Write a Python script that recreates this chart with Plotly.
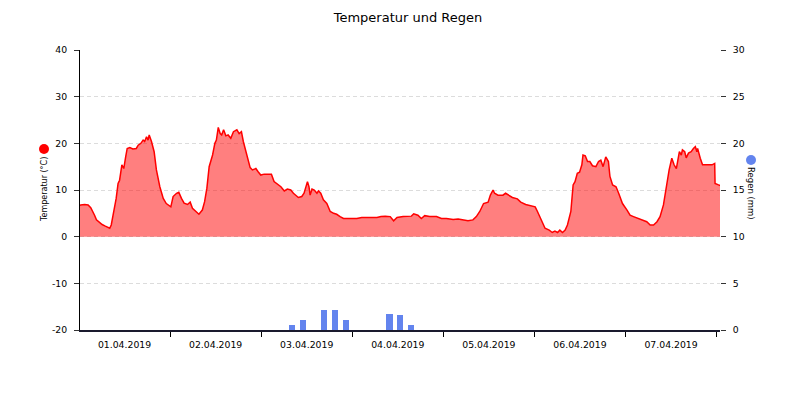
import pandas as pd
import plotly.graph_objects as go

# Temperature readings: hours after 01.04.2019 00:00 and values in °C
temp_hours = [
    0.0, 0.44, 1.5, 2.4, 3.1, 3.7, 4.1, 4.6, 5.5, 6.1, 6.8, 7.6, 8.1, 8.5, 9.2, 9.8,
    10.3, 10.7, 11.3, 11.8, 12.3, 12.7, 13.4, 14.2, 15.1, 15.6, 16.3, 16.9, 17.3,
    17.8, 18.2, 18.5, 19.1, 19.8, 20.4, 21.3, 22.2, 23.0, 24.2, 24.8, 25.7, 26.3,
    27.0, 27.7, 28.6, 29.3, 29.9, 30.8, 31.6, 32.5, 33.1, 33.7, 34.3, 35.2, 35.8,
    36.2, 36.7, 37.2, 37.6, 38.1, 38.7, 39.3, 40.0, 40.7, 41.6, 42.2, 42.8, 43.3,
    43.9, 44.6, 45.1, 45.7, 46.6, 47.2, 47.9, 48.8, 49.7, 50.7, 51.4, 52.3, 53.2,
    54.1, 54.9, 55.8, 56.5, 57.8, 58.7, 59.3, 59.9, 60.2, 60.6, 60.9, 61.4, 62.0,
    62.7, 63.1, 63.7, 64.4, 65.3, 66.2, 67.1, 67.9, 68.8, 69.7, 71.0, 72.4, 73.2,
    74.5, 75.8, 77.2, 78.5, 79.6, 80.7, 82.0, 82.9, 83.8, 85.4, 87.6, 88.2, 89.3,
    90.2, 91.1, 92.4, 94.2, 95.5, 96.8, 98.6, 99.9, 101.2, 102.5, 103.8, 104.7,
    105.6, 106.6, 107.8, 108.4, 109.1, 109.5, 110.4, 111.7, 112.4, 113.3, 114.2,
    115.5, 116.4, 117.7, 119.0, 120.2, 120.8, 121.4, 122.1, 122.8, 123.9, 124.7,
    125.4, 126.1, 126.7, 127.4, 128.1, 128.7, 129.6, 130.2, 130.7, 131.3, 131.9,
    132.5, 132.8, 133.4, 134.0, 134.6, 135.3, 136.2, 136.9, 137.5, 138.1, 138.8,
    139.5, 139.9, 140.6, 141.5, 142.2, 143.2, 144.4, 145.2, 146.1, 147.4, 148.7,
    149.6, 150.5, 151.4, 152.3, 153.1, 154.0, 154.9, 155.5, 156.2, 156.8, 157.4,
    157.8, 158.2, 158.7, 159.0, 159.6, 160.0, 160.6, 161.3, 161.9, 162.4, 162.8,
    163.0, 163.7, 164.3, 165.4, 166.8, 167.5, 167.6, 168.5, 169.2,
]
temp_values = [
    6.6, 6.8, 6.9, 6.8, 6.2, 5.4, 4.6, 3.6, 2.9, 2.6, 2.3, 2.0, 1.8, 2.5, 5.4, 8.2,
    11.4, 12.1, 15.4, 14.6, 17.1, 18.9, 19.1, 18.8, 18.9, 19.6, 20.0, 20.7, 20.4,
    21.4, 20.7, 21.8, 20.4, 18.2, 14.3, 10.7, 8.2, 7.1, 6.4, 8.6, 9.3, 9.5,
    8.2, 7.2, 6.9, 7.4, 6.1, 5.4, 4.8, 5.7, 7.5, 10.4, 15.0, 17.5, 20.0,
    20.7, 23.4, 22.1, 21.8, 22.9, 21.6, 21.8, 21.1, 22.5, 22.9, 22.1, 22.5, 20.4,
    18.6, 16.8, 14.8, 14.3, 14.6, 13.9, 13.2, 13.4, 13.4, 13.4, 11.8, 11.2, 10.7,
    9.8, 10.2, 10.0, 9.3, 8.4, 8.6, 9.3, 11.1, 11.8, 10.7, 8.9, 10.2, 10.0,
    9.3, 9.8, 9.3, 7.9, 7.1, 5.4, 5.0, 4.8, 4.3, 3.9, 3.9, 3.8, 3.9,
    4.1, 4.1, 4.1, 4.1, 4.3, 4.4, 4.3, 3.4, 4.1, 4.3, 4.4, 4.9, 4.6,
    3.9, 4.5, 4.3, 4.3, 3.9, 3.9, 3.7, 3.8, 3.6, 3.4, 3.6, 4.3,
    5.4, 7.1, 7.4, 8.9, 10.0, 9.3, 8.9, 8.9, 9.3, 8.8, 8.4,
    8.1, 7.4, 6.9, 6.6, 6.4, 5.4, 4.3, 3.1, 1.8, 1.4, 0.9,
    1.2, 0.9, 1.4, 0.9, 1.4, 2.5, 5.4, 11.1, 11.8, 13.6, 13.8,
    15.4, 17.5, 17.3, 16.1, 16.1, 15.2, 15.0, 16.1, 16.4, 15.0, 17.1,
    16.1, 12.9, 11.1, 10.7, 9.3, 7.1, 5.7, 4.6, 4.3, 3.9, 3.6,
    3.2, 2.5, 2.5, 3.2, 4.3, 6.8, 11.8, 14.3, 16.8, 15.4, 14.6,
    16.1, 18.2, 17.5, 18.6, 18.2, 16.9, 17.9, 18.2, 18.9, 19.3, 18.2,
    18.9, 16.8, 15.4, 15.4, 15.4, 15.7, 11.4, 11.1, 10.9,
]

# Rain (mm): hours after 01.04.2019 00:00
rain_hours = [56.1, 59.0, 64.6, 67.5, 70.4, 81.8, 84.6, 87.5]
rain_values = [0.5, 1.1, 2.15, 2.15, 1.1, 1.7, 1.6, 0.55]

# Axis ticks
temp_ticks = [-20, -10, 0, 10, 20, 30, 40]
temp_tick_labels = ["-20", "-10", "0", "10", "20", "30", "40"]
rain_ticks = [0, 5, 10, 15, 20, 25, 30]

title_text = "Temperatur und Regen"
left_title = "Temperatur (°C)"
right_title = "Regen (mm)"

start = pd.Timestamp("2019-04-01 00:00")
temp_x = [start + pd.Timedelta(hours=h) for h in temp_hours]
rain_x = [start + pd.Timedelta(hours=h) for h in rain_hours]

RED = "#ff0000"
BLUE = "rgb(99,132,238)"
FONT = "DejaVu Sans"

fig = go.Figure()
fig.add_trace(go.Bar(
    x=rain_x, y=rain_values, yaxis="y2",
    width=1.66 * 3600 * 1000,
    marker=dict(color=BLUE, line=dict(width=0)),
    hoverinfo="x+y",
))
fig.add_trace(go.Scatter(
    x=temp_x, y=temp_values, mode="lines",
    line=dict(color=RED, width=1.5),
    fill="tozeroy", fillcolor="rgba(255,0,0,0.5)",
))

fig.update_layout(
    width=800, height=400,
    margin=dict(l=72, r=88, t=42, b=78),
    paper_bgcolor="white", plot_bgcolor="white",
    showlegend=False,
    font=dict(family=FONT, size=9.3, color="#000"),
    title=dict(text=title_text, x=0.5, xanchor="center", y=1 - 9 / 400, yanchor="middle",
               font=dict(family=FONT, size=13, color="#000")),
    xaxis=dict(
        type="date",
        range=["2019-04-01 00:16", "2019-04-08 00:54"],
        tick0="2019-04-01", dtick=86400000,
        ticklabelmode="period", tickformat="%d.%m.%Y",
        ticks="outside", ticklen=5, tickcolor="#000",
        showline=True, linecolor="#1a1a2e", linewidth=1.5,
        showgrid=False, zeroline=False,
    ),
    yaxis=dict(
        range=[-20, 40], tickmode="array",
        tickvals=temp_ticks, ticktext=temp_tick_labels,
        ticks="outside", ticklen=5, tickcolor="#333",
        ticklabelstandoff=5,
        showline=True, linecolor="#000", linewidth=1,
        showgrid=True, gridcolor="#dcdcdc", griddash="4px,3px", gridwidth=1,
        zeroline=False,
    ),
    yaxis2=dict(
        range=[0, 30], tickmode="array", tickvals=rain_ticks,
        overlaying="y", side="right",
        ticks="outside", ticklen=5, tickcolor="#333",
        ticklabelstandoff=5,
        showline=False, showgrid=False, zeroline=False,
    ),
    bargap=0,
)

fig.add_annotation(text=left_title, xref="paper", yref="paper",
                   x=-36 / 640, y=0.5, textangle=-90, showarrow=False,
                   xanchor="center", yanchor="middle",
                   font=dict(family=FONT, size=8, color="#000"))
fig.add_annotation(text=right_title, xref="paper", yref="paper",
                   x=671 / 640, y=(330 - 193) / 280, textangle=90, showarrow=False,
                   xanchor="center", yanchor="middle",
                   font=dict(family=FONT, size=8.5, color="#000"))
fig.add_shape(type="circle", xref="paper", yref="paper",
              xsizemode="pixel", ysizemode="pixel",
              xanchor=-36 / 640, yanchor=(330 - 149) / 280,
              x0=-5, x1=5, y0=-5, y1=5,
              fillcolor=RED, line=dict(width=0))
fig.add_shape(type="circle", xref="paper", yref="paper",
              xsizemode="pixel", ysizemode="pixel",
              xanchor=671 / 640, yanchor=(330 - 160) / 280,
              x0=-5, x1=5, y0=-5, y1=5,
              fillcolor=BLUE, line=dict(width=0))

fig.write_html("out.html")
